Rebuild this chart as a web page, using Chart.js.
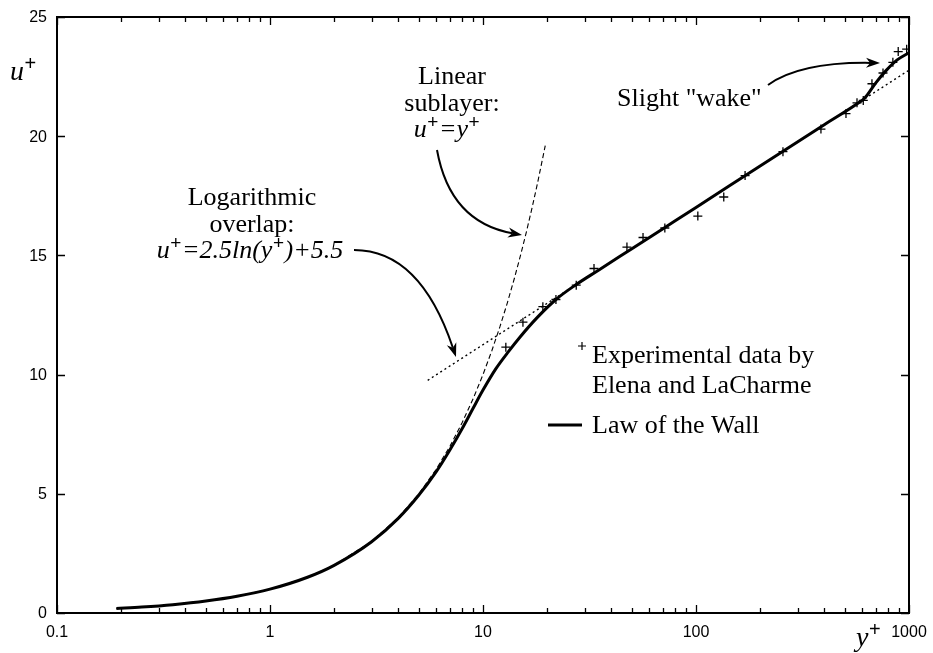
<!DOCTYPE html>
<html><head><meta charset="utf-8">
<script src="https://cdn.jsdelivr.net/npm/chart.js@4"></script>
<style>html,body{margin:0;padding:0;background:#fff;}#wrap{width:933px;height:653px;}</style>
</head><body><div id="wrap"><canvas id="c" width="933" height="653"></canvas></div>
<script>
// Axis ticks
const xTicks = [0.1, 1, 10, 100, 1000];
const xTickLabels = ['0.1', '1', '10', '100', '1000'];
const yTicks = [0, 5, 10, 15, 20, 25];

// Experimental data by Elena and LaCharme
const expYPlus = [12.8, 15.4, 19.1, 22.0, 27.4, 33.2, 47.4, 56.4, 71.4, 102, 135, 170, 256, 386, 506, 570, 610, 670, 755, 840, 890, 975];
const expUPlus = [11.15, 12.2, 12.85, 13.15, 13.75, 14.45, 15.35, 15.75, 16.15, 16.65, 17.45, 18.35, 19.35, 20.3, 20.95, 21.4, 21.5, 22.2, 22.65, 23.1, 23.55, 23.65];

// Law of the wall profile
const wallYPlus = [0.19, 0.25, 0.35, 0.5, 0.7, 1, 1.5, 2, 3, 4, 5, 6, 7, 8, 9, 10, 11.5, 13, 15, 18, 22, 27, 35, 50, 70, 100, 200, 400, 580, 620, 700, 780, 880, 1000];
const wallUPlus = [0.19, 0.25, 0.35, 0.5, 0.7, 1.0, 1.5, 2.0, 2.99, 3.97, 4.95, 5.9, 6.85, 7.75, 8.6, 9.35, 10.25, 10.9, 11.6, 12.4, 13.15, 13.74, 14.39, 15.28, 16.12, 17.01, 18.75, 20.48, 21.4, 21.6, 22.25, 22.75, 23.2, 23.5];

// Linear sublayer u+ = y+
const linYPlus = [0.19, 0.3, 0.5, 0.7, 1, 1.5, 2, 3, 4, 5, 6, 7, 8, 9, 10, 11, 12, 13, 14, 15, 16, 17, 18, 19.6];
const linUPlus = [0.19, 0.3, 0.5, 0.7, 1, 1.5, 2, 3, 4, 5, 6, 7, 8, 9, 10, 11, 12, 13, 14, 15, 16, 17, 18, 19.6];

// Logarithmic overlap u+ = 2.5 ln(y+) + 5.5 (straight on a log axis)
const logYPlus = [5.5, 1000];
const logUPlus = [9.76, 22.77];

const pts = (xs, ys) => xs.map((x, i) => ({x: x, y: ys[i]}));

const SERIF = '"Liberation Serif", "Times New Roman", serif';
const SANS = '"Liberation Sans", Arial, sans-serif';

// Draw a run of text pieces; sup pieces are raised plus signs
function drawRuns(ctx, runs, x, y, size, align) {
  const fontOf = r => (r.it ? 'italic ' : '') + (r.sup ? Math.round(size * 0.72) : size) + 'px ' + (r.sup ? SANS : SERIF);
  const widths = runs.map(r => {
    ctx.font = fontOf(r);
    return ctx.measureText(r.t).width + (r.sup ? 1 : 0);
  });
  const total = widths.reduce((a, b) => a + b, 0);
  let cx = align === 'center' ? x - total / 2 : x;
  ctx.textAlign = 'left';
  ctx.textBaseline = 'alphabetic';
  runs.forEach((r, i) => {
    ctx.font = fontOf(r);
    ctx.fillText(r.t, cx + (r.sup ? 0.5 : 0), r.sup ? y - size * 0.36 : y);
    cx += widths[i];
  });
}

// Curved annotation arrow with a filled head
function arrow(ctx, x0, y0, cx, cy, x1, y1) {
  ctx.save();
  ctx.strokeStyle = '#000';
  ctx.fillStyle = '#000';
  ctx.lineWidth = 2;
  const ang = Math.atan2(y1 - cy, x1 - cx);
  const hl = 14, hw = 5;
  const bx = x1 - Math.cos(ang) * hl * 0.7, by = y1 - Math.sin(ang) * hl * 0.7;
  ctx.beginPath();
  ctx.moveTo(x0, y0);
  ctx.quadraticCurveTo(cx, cy, bx, by);
  ctx.stroke();
  ctx.beginPath();
  ctx.moveTo(x1, y1);
  ctx.lineTo(x1 - Math.cos(ang) * hl + Math.sin(ang) * hw, y1 - Math.sin(ang) * hl - Math.cos(ang) * hw);
  ctx.lineTo(x1 - Math.cos(ang) * hl * 0.7, y1 - Math.sin(ang) * hl * 0.7);
  ctx.lineTo(x1 - Math.cos(ang) * hl - Math.sin(ang) * hw, y1 - Math.sin(ang) * hl + Math.cos(ang) * hw);
  ctx.closePath();
  ctx.fill();
  ctx.restore();
}

const decor = {
  id: 'decor',
  afterDraw(chart) {
    const ctx = chart.ctx;
    const a = chart.chartArea;
    const xs = chart.scales.x, ys = chart.scales.y;
    ctx.save();
    ctx.strokeStyle = '#000';
    ctx.fillStyle = '#000';
    // frame
    ctx.lineWidth = 2;
    ctx.strokeRect(a.left, a.top, a.right - a.left, a.bottom - a.top);
    // x ticks (major decades and minor 2..9), inward on bottom and top
    ctx.lineWidth = 1.3;
    ctx.beginPath();
    for (let d = 0; d < xTicks.length; d++) {
      const base = xTicks[d];
      for (let m = 1; m <= 9; m++) {
        const v = base * m;
        if (v > xTicks[xTicks.length - 1]) break;
        const px = Math.round(xs.getPixelForValue(v)) + 0.5;
        const len = m === 1 ? 8 : 5;
        ctx.moveTo(px, a.bottom); ctx.lineTo(px, a.bottom - len);
        ctx.moveTo(px, a.top); ctx.lineTo(px, a.top + len);
      }
    }
    yTicks.forEach(v => {
      const py = Math.round(ys.getPixelForValue(v)) + 0.5;
      ctx.moveTo(a.left, py); ctx.lineTo(a.left + 8, py);
      ctx.moveTo(a.right, py); ctx.lineTo(a.right - 8, py);
    });
    ctx.stroke();
    // tick labels
    ctx.font = '16px ' + SANS;
    ctx.textAlign = 'center';
    ctx.textBaseline = 'middle';
    xTicks.forEach((v, i) => ctx.fillText(xTickLabels[i], xs.getPixelForValue(v), a.bottom + 20));
    ctx.textAlign = 'right';
    yTicks.forEach(v => ctx.fillText(String(v), a.left - 10, ys.getPixelForValue(v) + 1));
    // axis titles
    drawRuns(ctx, [{t: 'u', it: true}, {t: '+', sup: true}], 10, 80, 28, 'left');
    drawRuns(ctx, [{t: 'y', it: true}, {t: '+', sup: true}], 856, 646, 28, 'left');
    // annotations
    const S = 26;
    ctx.font = S + 'px ' + SERIF;
    ctx.textAlign = 'center';
    ctx.textBaseline = 'alphabetic';
    ctx.fillText('Linear', 452, 84);
    ctx.fillText('sublayer:', 452, 111);
    drawRuns(ctx, [{t: 'u', it: true}, {t: '+', sup: true}, {t: '=y', it: true}, {t: '+', sup: true}], 447, 137, S, 'center');
    arrow(ctx, 437, 150, 450, 222, 522, 235);
    ctx.font = S + 'px ' + SERIF;
    ctx.textAlign = 'center';
    ctx.fillText('Logarithmic', 252, 205);
    ctx.fillText('overlap:', 252, 232);
    drawRuns(ctx, [{t: 'u', it: true}, {t: '+', sup: true}, {t: '=2.5ln(y', it: true}, {t: '+', sup: true}, {t: ')+5.5', it: true}], 250, 258, S, 'center');
    arrow(ctx, 354, 250, 420, 250, 456, 357);
    ctx.font = S + 'px ' + SERIF;
    ctx.textAlign = 'left';
    ctx.fillText('Slight "wake"', 617, 106);
    arrow(ctx, 768, 85, 800, 62, 880, 63);
    // legend
    ctx.font = S + 'px ' + SERIF;
    ctx.textAlign = 'left';
    ctx.fillText('Experimental data by', 592, 363);
    ctx.fillText('Elena and LaCharme', 592, 393);
    ctx.fillText('Law of the Wall', 592, 433);
    ctx.lineWidth = 1.2;
    ctx.beginPath();
    ctx.moveTo(578, 346); ctx.lineTo(586, 346);
    ctx.moveTo(582, 342); ctx.lineTo(582, 350);
    ctx.stroke();
    ctx.lineWidth = 3;
    ctx.beginPath();
    ctx.moveTo(548, 425); ctx.lineTo(582, 425);
    ctx.stroke();
    ctx.restore();
  }
};

new Chart(document.getElementById('c'), {
  type: 'scatter',
  data: {
    datasets: [
      {label: 'Linear sublayer', data: pts(linYPlus, linUPlus), showLine: true, borderColor: '#000', borderWidth: 1.1, borderDash: [5, 3], pointRadius: 0, fill: false},
      {label: 'Logarithmic overlap', data: pts(logYPlus, logUPlus), showLine: true, borderColor: '#000', borderWidth: 1.4, borderDash: [2, 3], pointRadius: 0, fill: false},
      {label: 'Law of the Wall', data: pts(wallYPlus, wallUPlus), showLine: true, borderColor: '#000', borderWidth: 3, pointRadius: 0, cubicInterpolationMode: 'monotone', fill: false},
      {label: 'Experimental data by Elena and LaCharme', data: pts(expYPlus, expUPlus), showLine: false, pointStyle: 'cross', pointRadius: 4.5, borderColor: '#000', borderWidth: 1.3}
    ]
  },
  options: {
    responsive: false,
    animation: false,
    devicePixelRatio: 1,
    layout: {padding: {left: 57, right: 24, top: 17, bottom: 40}},
    plugins: {legend: {display: false}, tooltip: {enabled: false}},
    scales: {
      x: {type: 'logarithmic', min: 0.1, max: 1000, display: false},
      y: {type: 'linear', min: 0, max: 25, display: false}
    }
  },
  plugins: [decor]
});
</script>
</body></html>
